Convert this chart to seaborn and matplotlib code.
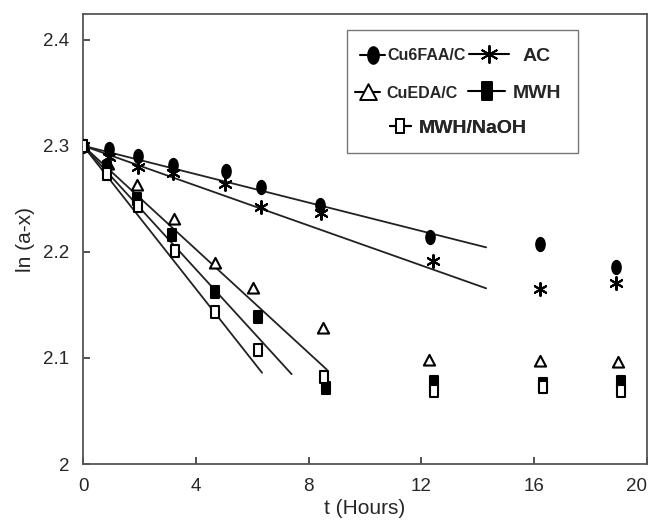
import matplotlib
matplotlib.use("Agg")
import matplotlib.pyplot as plt
import seaborn as sns
import numpy as np
import pandas as pd
from matplotlib.path import Path
from matplotlib.transforms import Affine2D
from matplotlib.lines import Line2D
from matplotlib.patches import Rectangle
from matplotlib.ticker import FixedLocator, FixedFormatter

# series: time (h) and ln(a-x)
cu6faa_t = [0, 0.92, 1.95, 3.2, 5.07, 6.3, 8.4, 12.3, 16.2, 18.9]
cu6faa_y = [2.300, 2.297, 2.290, 2.282, 2.276, 2.261, 2.244, 2.214, 2.207, 2.186]

ac_t = [0, 0.92, 1.95, 3.2, 5.05, 6.3, 8.45, 12.4, 16.2, 18.9]
ac_y = [2.300, 2.289, 2.280, 2.274, 2.264, 2.242, 2.237, 2.191, 2.165, 2.171]

cueda_t = [0, 0.9, 1.91, 3.23, 4.68, 6.03, 8.51, 12.27, 16.2, 18.97]
cueda_y = [2.300, 2.283, 2.263, 2.231, 2.189, 2.166, 2.128, 2.098, 2.097, 2.096]

mwh_t = [0, 0.85, 1.91, 3.16, 4.68, 6.2, 8.62, 12.45, 16.3, 19.1]
mwh_y = [2.300, 2.280, 2.250, 2.216, 2.162, 2.139, 2.072, 2.077, 2.075, 2.077]

naoh_t = [0, 0.85, 1.95, 3.27, 4.68, 6.2, 8.55, 12.45, 16.3, 19.1]
naoh_y = [2.300, 2.273, 2.243, 2.201, 2.143, 2.107, 2.082, 2.069, 2.073, 2.069]

labels = ["Cu6FAA/C", "AC", "CuEDA/C", "MWH", "MWH/NaOH"]

# linear fits drawn over the initial part of each run
fit_intercept = 2.30
fit_slope = [-0.0067, -0.0094, -0.0244, -0.0291, -0.0337]
fit_end = [14.3, 14.3, 8.65, 7.4, 6.35]

xticks = [0, 4, 8, 12, 16, 20]
yticks = [2.0, 2.1, 2.2, 2.3, 2.4]
ytick_labels = ["2", "2.1", "2.2", "2.3", "2.4"]

sns.set_style("white")
plt.rcParams["font.family"] = ["Liberation Sans", "DejaVu Sans"]

# tall marker shapes like in the scanned figure
ellipse = Path.unit_circle().transformed(Affine2D().scale(0.65, 1.0))
rect = Path([(-0.3, -0.5), (0.3, -0.5), (0.3, 0.5), (-0.3, 0.5), (-0.3, -0.5)],
            [Path.MOVETO, Path.LINETO, Path.LINETO, Path.LINETO, Path.CLOSEPOLY])
tri = Path([(-0.5, -0.45), (0.5, -0.45), (0, 0.5), (-0.5, -0.45)],
           [Path.MOVETO, Path.LINETO, Path.LINETO, Path.CLOSEPOLY])
star = (6, 2, 0)

series = [
    (cu6faa_t, cu6faa_y, ellipse, "black", 90),
    (ac_t, ac_y, star, "black", 85),
    (cueda_t, cueda_y, tri, "white", 65),
    (mwh_t, mwh_y, rect, "black", 80),
    (naoh_t, naoh_y, rect, "white", 80),
]

fig, ax = plt.subplots(figsize=(6.54, 5.24), dpi=100)
fig.subplots_adjust(left=0.127, right=0.989, top=0.973, bottom=0.1145)

for i, (t, y, mk, fc, s) in enumerate(series):
    fx = np.array([0, fit_end[i]])
    fit = pd.DataFrame({"t": fx, "y": fit_intercept + fit_slope[i] * fx})
    sns.lineplot(data=fit, x="t", y="y", color="#222222", linewidth=1.3, ax=ax, zorder=2)
    sns.scatterplot(x=t, y=y, marker=mk, s=s, color="black", facecolor=fc,
                    edgecolor="black", linewidth=1.5, ax=ax, zorder=3)

ax.set_xlim(0, 20)
ax.set_ylim(2.0, 2.424)
ax.xaxis.set_major_locator(FixedLocator(xticks))
ax.yaxis.set_major_locator(FixedLocator(yticks))
ax.yaxis.set_major_formatter(FixedFormatter(ytick_labels))
ax.tick_params(axis="both", direction="in", length=5, width=1.2, labelsize=13.5,
               pad=10, bottom=True, left=True, top=False, right=False, color="#333333")
for sp in ax.spines.values():
    sp.set_color("#555555")
    sp.set_linewidth(1.3)
ax.set_xlabel("t (Hours)", fontsize=15, labelpad=3)
ax.set_ylabel("ln (a-x)", fontsize=15, labelpad=6)

# keep the last x label inside the picture
fig.canvas.draw()
ax.get_xticklabels()[-1].set_horizontalalignment("right")

# legend box with hand-placed entries
ax.add_patch(Rectangle((0.468, 0.691), 0.41, 0.273, transform=ax.transAxes,
                       fill=False, edgecolor="#777777", linewidth=1.0, zorder=4))

entries = [
    # label idx, marker, face, msize, x, y, fontsize, handlelength, textpad
    (0, ellipse, "black", 12, 0.491, 0.907, 11.5, 1.6, 0.15),
    (1, star, "black", 13, 0.684, 0.907, 14, 2.1, 0.65),
    (2, tri, "white", 12, 0.482, 0.824, 11.5, 1.6, 0.35),
    (3, rect, "black", 13, 0.683, 0.824, 14, 1.9, 0.4),
    (4, rect, "white", 10, 0.544, 0.747, 14, 1.1, 0.4),
]
for idx, mk, fc, ms, lx, ly, fs, hl, tp in entries:
    h = Line2D([], [], color="black", linewidth=1.5, marker=mk, markersize=ms,
               markerfacecolor=fc, markeredgecolor="black", markeredgewidth=1.4)
    leg = ax.legend([h], [labels[idx]], loc="center left", bbox_to_anchor=(lx, ly),
                    frameon=False, borderpad=0, borderaxespad=0, handlelength=hl,
                    handletextpad=tp, prop={"weight": "bold", "size": fs})
    ax.add_artist(leg)

fig.savefig("out.png", dpi=100)
